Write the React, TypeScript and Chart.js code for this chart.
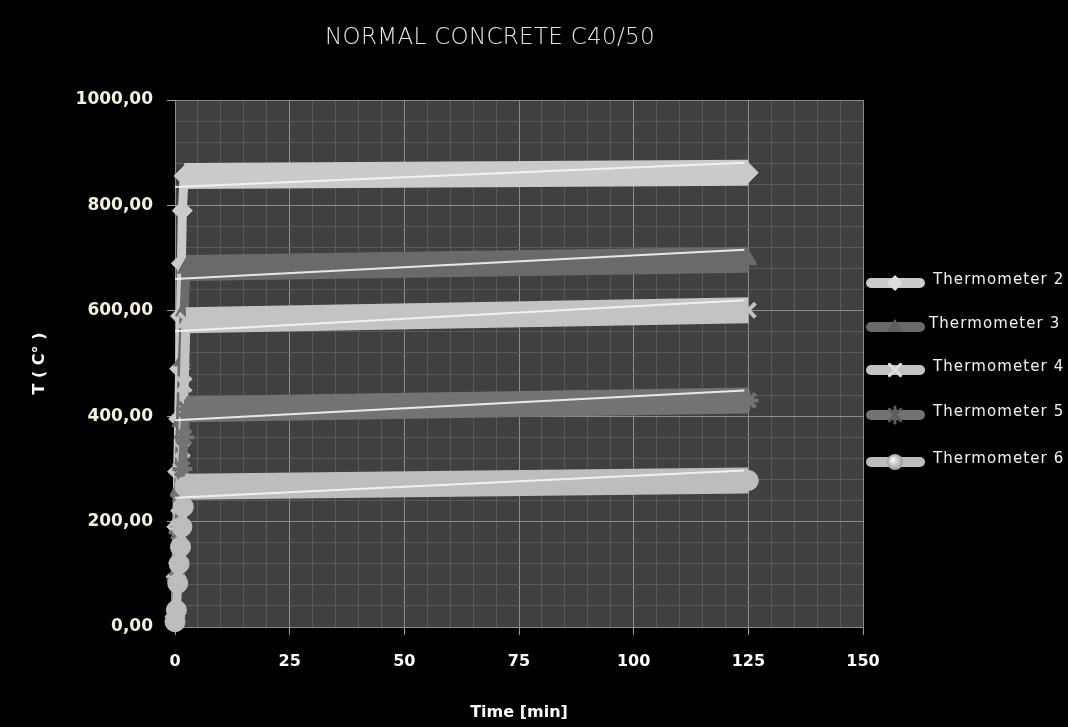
import React, { useEffect, useRef } from 'react';
import { Chart, registerables } from 'chart.js';
Chart.register(...registerables);

// ---- data ----
const seriesNames = ['Thermometer 2', 'Thermometer 3', 'Thermometer 4', 'Thermometer 5', 'Thermometer 6'];

const times2 = [0, 0.2, 0.4, 0.6, 0.8, 1.0, 1.2, 1.4, 1.6, 2.0, 125];
const temps2 = [20, 95, 190, 295, 395, 490, 590, 690, 790, 856, 862];

const times3 = [0, 0.4, 0.8, 1.2, 1.6, 2.0, 2.4, 125];
const temps3 = [15, 130, 260, 390, 505, 600, 681, 697];

const times4 = [0, 0.4, 0.8, 1.2, 1.6, 2.0, 2.4, 125];
const temps4 = [12, 110, 210, 298, 336, 460, 582, 601];

const times5 = [0, 0.4, 0.8, 1.2, 1.6, 2.0, 2.4, 125];
const temps5 = [10, 90, 180, 250, 300, 360, 413, 430];

const times6 = [0, 0.3, 0.6, 0.9, 1.2, 1.5, 1.8, 2.2, 125];
const temps6 = [10, 32, 83, 120, 152, 190, 228, 266, 278];

const xTickLabels = [0, 25, 50, 75, 100, 125, 150];
const yTickLabels = [0, 200, 400, 600, 800, 1000];

const chartTitle = 'NORMAL CONCRETE C40/50';
const xTitle = 'Time [min]';
const yTitle = 'T ( C° )';

// ---- styles ----
const colors = ['#cacaca', '#6a6a6a', '#c3c3c3', '#737373', '#bdbdbd'];
const pointStyles = ['rectRot', 'triangle', 'crossRot', 'star', 'circle'];
const legendY = [283, 327, 370, 415, 462];

const FONT = '"DejaVu Sans", Verdana, sans-serif';

function makePoints(t: number[], v: number[]) {
  return t.map((x, i) => ({ x, y: v[i] }));
}

const allTimes = [times2, times3, times4, times5, times6];
const allTemps = [temps2, temps3, temps4, temps5, temps6];

function drawMarker(ctx: CanvasRenderingContext2D, style: string, x: number, y: number, r: number, color: string) {
  ctx.save();
  ctx.fillStyle = color;
  ctx.strokeStyle = color;
  ctx.lineWidth = 3;
  ctx.beginPath();
  if (style === 'rectRot') {
    ctx.moveTo(x, y - r); ctx.lineTo(x + r, y); ctx.lineTo(x, y + r); ctx.lineTo(x - r, y); ctx.closePath(); ctx.fill();
  } else if (style === 'triangle') {
    ctx.moveTo(x, y - r); ctx.lineTo(x + r, y + r * 0.6); ctx.lineTo(x - r, y + r * 0.6); ctx.closePath(); ctx.fill();
  } else if (style === 'crossRot') {
    ctx.moveTo(x - r * 0.7, y - r * 0.7); ctx.lineTo(x + r * 0.7, y + r * 0.7);
    ctx.moveTo(x + r * 0.7, y - r * 0.7); ctx.lineTo(x - r * 0.7, y + r * 0.7); ctx.stroke();
  } else if (style === 'star') {
    ctx.moveTo(x - r * 0.7, y - r * 0.7); ctx.lineTo(x + r * 0.7, y + r * 0.7);
    ctx.moveTo(x + r * 0.7, y - r * 0.7); ctx.lineTo(x - r * 0.7, y + r * 0.7);
    ctx.moveTo(x, y - r); ctx.lineTo(x, y + r); ctx.stroke();
  } else {
    const g = ctx.createRadialGradient(x - r * 0.3, y - r * 0.3, 1, x, y, r);
    g.addColorStop(0, '#f4f4f4');
    g.addColorStop(1, '#9a9a9a');
    ctx.fillStyle = g;
    ctx.arc(x, y, r, 0, Math.PI * 2); ctx.fill();
  }
  ctx.restore();
}

const bgPlugin = {
  id: 'bg',
  beforeDraw(chart: any) {
    const { ctx, chartArea: a } = chart;
    ctx.save();
    ctx.fillStyle = '#000';
    ctx.fillRect(0, 0, chart.width, chart.height);
    ctx.fillStyle = '#404040';
    ctx.fillRect(a.left, a.top, a.right - a.left, a.bottom - a.top);
    ctx.restore();
  },
};

const highlightPlugin = {
  id: 'highlight',
  afterDatasetDraw(chart: any, args: any) {
    const meta = args.meta;
    const pts = meta.data;
    if (!pts || pts.length < 2) return;
    const last = pts[pts.length - 1];
    const first = pts[pts.length - 2];
    const w = 26;
    const ctx = chart.ctx;
    ctx.save();
    ctx.strokeStyle = 'rgba(245,245,245,0.9)';
    ctx.lineWidth = 2;
    ctx.beginPath();
    ctx.moveTo(chart.chartArea.left, first.y + w / 2 - 2);
    ctx.lineTo(last.x - 4, last.y - w / 2 + 3);
    ctx.stroke();
    ctx.restore();
  },
};

const decoPlugin = {
  id: 'deco',
  afterDraw(chart: any) {
    const ctx = chart.ctx;
    ctx.save();
    ctx.fillStyle = '#e4e4e4';
    ctx.font = `300 23px ${FONT}`;
    (ctx as any).letterSpacing = '0.3px';
    ctx.textAlign = 'center';
    ctx.textBaseline = 'middle';
    ctx.fillText(chartTitle, 490, 38);

    ctx.font = `15px ${FONT}`;
    (ctx as any).letterSpacing = '1.1px';
    ctx.textAlign = 'left';
    seriesNames.forEach((name, i) => {
      const y = legendY[i];
      ctx.strokeStyle = colors[i];
      ctx.lineWidth = 10;
      ctx.lineCap = 'round';
      ctx.beginPath();
      ctx.moveTo(871, y);
      ctx.lineTo(920, y);
      ctx.stroke();
      drawMarker(ctx, pointStyles[i], 895, y, 8, colors[i] === '#6a6a6a' || colors[i] === '#737373' ? '#5e5e5e' : '#dedede');
      ctx.fillStyle = '#f2f2f2';
      ctx.fillText(name, i === 1 ? 929 : 933, y - 3);
    });
    ctx.restore();
  },
};

export default function App() {
  const ref = useRef<HTMLCanvasElement | null>(null);

  useEffect(() => {
    document.body.style.margin = '0';
    document.body.style.background = '#000';
    if (!ref.current) return;

    const datasets = seriesNames.map((name, i) => ({
      label: name,
      data: makePoints(allTimes[i], allTemps[i]),
      borderColor: colors[i],
      backgroundColor: colors[i],
      borderWidth: 26,
      borderJoinStyle: 'round' as const,
      segment: {
        borderWidth: (c: any) => (c.p1.parsed.x > 10 ? 26 : 9),
      },
      pointStyle: pointStyles[i],
      pointRadius: 10,
      pointBorderWidth: pointStyles[i] === 'crossRot' || pointStyles[i] === 'star' ? 4 : 1,
      pointBackgroundColor: colors[i],
      pointBorderColor: colors[i],
      clip: false as any,
      order: seriesNames.length - i,
      tension: 0,
    }));

    const chart = new Chart(ref.current, {
      type: 'line',
      data: { datasets },
      plugins: [bgPlugin, highlightPlugin, decoPlugin],
      options: {
        responsive: false,
        animation: false,
        events: [],
        layout: { padding: { top: 100, right: 205, left: 0, bottom: 0 } },
        plugins: {
          legend: { display: false },
          tooltip: { enabled: false },
          title: { display: false },
        },
        scales: {
          x: {
            type: 'linear',
            min: 0,
            max: 150,
            afterFit: (s: any) => { s.height = 100; },
            ticks: {
              stepSize: 5,
              autoSkip: false,
              maxRotation: 0,
              maxTicksLimit: 200,
              padding: 17,
              color: '#ffffff',
              font: { family: FONT, size: 16, weight: 'bold' },
              callback: (v: any) => (xTickLabels.includes(Number(v)) ? String(v) : ''),
            },
            grid: {
              color: (c: any) => (c.tick && c.tick.value % 25 === 0 ? '#8c8c8c' : '#5a5a5a'),
              tickColor: (c: any) => (c.tick && c.tick.value % 25 === 0 ? '#a0a0a0' : 'transparent'),
              tickLength: 8,
              lineWidth: 1,
            },
            border: { display: true, color: '#8c8c8c' },
            title: {
              display: true,
              text: xTitle,
              color: '#ffffff',
              font: { family: FONT, size: 16, weight: 'bold' },
              padding: { top: 0, bottom: 5 },
            },
          },
          y: {
            type: 'linear',
            min: 0,
            max: 1000,
            afterFit: (s: any) => { s.width = 175; },
            ticks: {
              stepSize: 40,
              autoSkip: false,
              maxTicksLimit: 200,
              padding: 14,
              color: '#f4f0dc',
              font: { family: FONT, size: 17, weight: 'bold' },
              callback: (v: any) =>
                yTickLabels.includes(Number(v)) ? Number(v).toFixed(2).replace('.', ',') : '',
            },
            grid: {
              color: (c: any) => (c.tick && c.tick.value % 200 === 0 ? '#8c8c8c' : '#5a5a5a'),
              tickColor: (c: any) => (c.tick && c.tick.value % 200 === 0 ? '#a0a0a0' : 'transparent'),
              tickLength: 8,
              lineWidth: 1,
            },
            border: { display: true, color: '#8c8c8c' },
            title: {
              display: true,
              text: yTitle,
              color: '#ffffff',
              font: { family: FONT, size: 16, weight: 'bold' },
              padding: { top: 30, bottom: 0 },
            },
          },
        },
      } as any,
    });
    return () => chart.destroy();
  }, []);

  return (
    <div style={{ width: 1068, height: 727, background: '#000' }}>
      <canvas ref={ref} width={1068} height={727} style={{ display: 'block' }} />
    </div>
  );
}
